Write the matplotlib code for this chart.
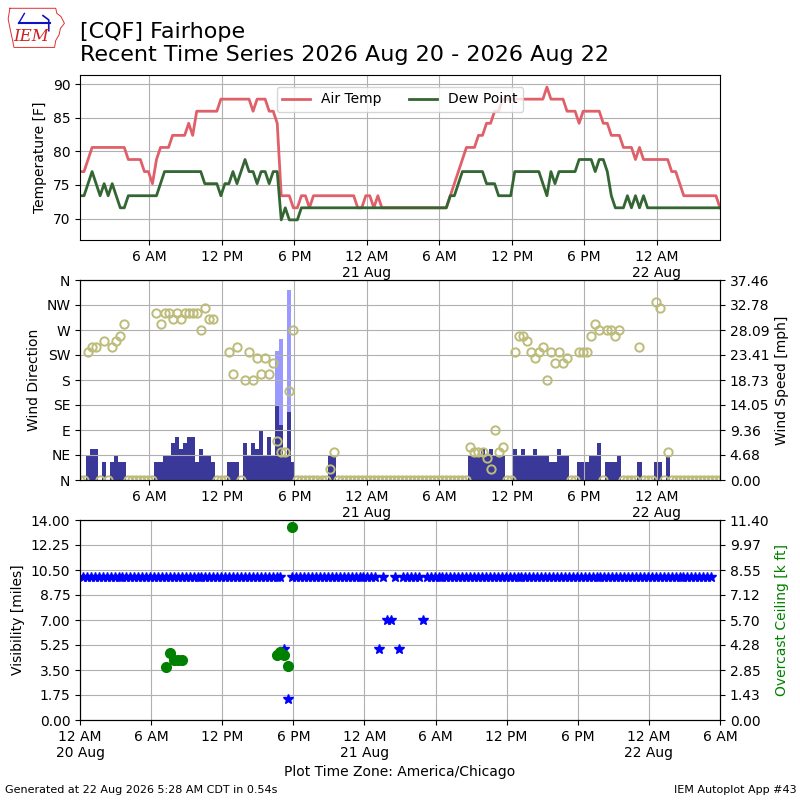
import numpy as np
import pandas as pd
import matplotlib
matplotlib.use("Agg")
import matplotlib.pyplot as plt
import matplotlib.dates as mdates
from matplotlib.ticker import FixedLocator, FormatStrFormatter
from datetime import datetime

# observations every 20 minutes, 00:15 20 Aug -> 05:15 22 Aug (America/Chicago)
valid = pd.date_range("2026-08-20 00:15", periods=160, freq="20min")

tmpf = [77, 77, 78.8, 80.6, 80.6, 80.6, 80.6, 80.6, 80.6, 80.6, 80.6, 80.6, 78.8, 78.8, 78.8, 78.8,
        77, 77, 75.2, 78.8, 80.6, 80.6, 80.6, 82.4, 82.4, 82.4, 82.4, 84.2, 82.4, 86, 86, 86,
        86, 86, 86, 87.8, 87.8, 87.8, 87.8, 87.8, 87.8, 87.8, 87.8, 86, 87.8, 87.8, 87.8, 86,
        86, 84.2, 73.4, 73.4, 73.4, 71.6, 71.6, 73.4, 73.4, 71.6, 73.4, 73.4, 73.4, 73.4, 73.4, 73.4,
        73.4, 73.4, 73.4, 73.4, 73.4, 71.6, 71.6, 73.4, 73.4, 71.6, 73.4, 71.6, 71.6, 71.6, 71.6, 71.6,
        71.6, 71.6, 71.6, 71.6, 71.6, 71.6, 71.6, 71.6, 71.6, 71.6, 71.6, 71.6, 73.4, 75.2, 77, 78.8,
        80.6, 80.6, 80.6, 82.4, 82.4, 84.2, 84.2, 86, 86, 87.8, 87.8, 87.8, 87.8, 87.8, 87.8, 87.8,
        87.8, 87.8, 87.8, 87.8, 89.6, 87.8, 87.8, 87.8, 87.8, 86, 86, 86, 84.2, 86, 86, 86,
        86, 86, 84.2, 84.2, 82.4, 82.4, 82.4, 80.6, 80.6, 80.6, 78.8, 80.6, 78.8, 78.8, 78.8, 78.8,
        78.8, 78.8, 78.8, 77, 77, 75.2, 73.4, 73.4, 73.4, 73.4, 73.4, 73.4, 73.4, 73.4, 73.4, 71.6]

dwpf = [73.4, 73.4, 75.2, 77, 75.2, 73.4, 75.2, 73.4, 75.2, 73.4, 71.6, 71.6, 73.4, 73.4, 73.4, 73.4,
        73.4, 73.4, 73.4, 73.4, 75.2, 77, 77, 77, 77, 77, 77, 77, 77, 77, 77, 75.2,
        75.2, 75.2, 75.2, 73.4, 75.2, 75.2, 77, 75.2, 77, 78.8, 77, 77, 75.2, 77, 77, 75.2,
        77, 77, 69.8, 71.6, 69.8, 69.8, 69.8, 71.6, 71.6, 71.6, 71.6, 71.6, 71.6, 71.6, 71.6, 71.6,
        71.6, 71.6, 71.6, 71.6, 71.6, 71.6, 71.6, 71.6, 71.6, 71.6, 71.6, 71.6, 71.6, 71.6, 71.6, 71.6,
        71.6, 71.6, 71.6, 71.6, 71.6, 71.6, 71.6, 71.6, 71.6, 71.6, 71.6, 71.6, 73.4, 73.4, 75.2, 77,
        77, 77, 77, 77, 77, 75.2, 75.2, 75.2, 73.4, 73.4, 73.4, 73.4, 77, 77, 77, 77,
        77, 77, 77, 75.2, 73.4, 77, 75.2, 77, 77, 77, 77, 77, 78.8, 78.8, 78.8, 78.8,
        77, 78.8, 78.8, 77, 73.4, 71.6, 71.6, 71.6, 73.4, 71.6, 73.4, 71.6, 73.4, 71.6, 71.6, 71.6,
        71.6, 71.6, 71.6, 71.6, 71.6, 71.6, 71.6, 71.6, 71.6, 71.6, 71.6, 71.6, 71.6, 71.6, 71.6, 71.6]

# wind speed [kt]
sknt = [0, 0, 4, 5, 5, 0, 3, 0, 3, 4, 3, 3, 0, 0, 0, 0,
        0, 0, 0, 3, 3, 4, 4, 6, 7, 5, 6, 7, 7, 3, 5, 4,
        4, 3, 0, 0, 0, 3, 3, 3, 0, 6, 4, 6, 5, 8, 4, 7,
        4, 12, 9, 4, 11, 3, 0, 0, 0, 0, 0, 0, 0, 0, 4, 4,
        0, 0, 0, 0, 0, 0, 0, 0, 0, 0, 0, 0, 0, 0, 0, 0,
        0, 0, 0, 0, 0, 0, 0, 0, 0, 0, 0, 0, 0, 0, 0, 0,
        0, 4, 4, 4, 5, 4, 5, 4, 4, 4, 0, 0, 5, 4, 5, 4,
        4, 5, 4, 4, 4, 3, 3, 5, 4, 4, 0, 0, 3, 3, 3, 4,
        4, 6, 0, 3, 3, 3, 4, 0, 0, 0, 0, 3, 0, 0, 0, 3,
        3, 0, 4, 0, 0, 0, 0, 0, 0, 0, 0, 0, 0, 0, 0, 0]

# gusts [kt], only reported during the evening storm
gust = [np.nan] * 160
gust[49] = 21
gust[50] = 23
gust[52] = 31

# wind direction [deg], 0 when calm
drct = [0, 0, 230, 240, 240, 0, 250, 0, 240, 250, 260, 280, 0, 0, 0, 0,
        0, 0, 0, 300, 280, 300, 300, 290, 300, 290, 300, 300, 300, 300, 270, 310,
        290, 290, 0, 0, 0, 230, 190, 240, 0, 180, 230, 180, 220, 190, 220, 190,
        210, 70, 50, 50, 160, 270, 0, 0, 0, 0, 0, 0, 0, 0, 20, 50,
        0, 0, 0, 0, 0, 0, 0, 0, 0, 0, 0, 0, 0, 0, 0, 0,
        0, 0, 0, 0, 0, 0, 0, 0, 0, 0, 0, 0, 0, 0, 0, 0,
        0, 60, 50, 50, 50, 40, 20, 90, 50, 60, 0, 0, 230, 260, 260, 250,
        230, 220, 230, 240, 180, 230, 210, 230, 210, 220, 0, 0, 230, 230, 230, 260,
        280, 270, 0, 270, 270, 260, 270, 0, 0, 0, 0, 240, 0, 0, 0, 320,
        310, 0, 50, 0, 0, 0, 0, 0, 0, 0, 0, 0, 0, 0, 0, 0]

# visibility [miles]
vsby = [10.0] * 160
vsby[51] = 5.0
vsby[52] = 1.5
vsby[75] = 5.0
vsby[77] = 7.0
vsby[78] = 7.0
vsby[80] = 5.0
vsby[86] = 7.0

# overcast ceiling [k ft]
ceil = [np.nan] * 160
ceil[21] = 3.0
ceil[22] = 3.8
ceil[23] = 3.4
ceil[24] = 3.4
ceil[25] = 3.4
ceil[49] = 3.7
ceil[50] = 3.9
ceil[51] = 3.7
ceil[52] = 3.1
ceil[53] = 11.0

KT2MPH = 1.15078
sped = np.array(sknt) * KT2MPH
gust_mph = np.array(gust) * KT2MPH
smax = np.nanmax(gust_mph) * 1.05


def timefmt(x, pos=None):
    dt = mdates.num2date(x)
    label = dt.strftime("%-I %p")
    if dt.hour == 0:
        label += "\n" + dt.strftime("%d %b")
    return label


def setup_xaxis(ax):
    ax.xaxis.set_major_locator(mdates.HourLocator(byhour=[0, 6, 12, 18]))
    ax.xaxis.set_major_formatter(plt.FuncFormatter(timefmt))
    ax.grid(True)


fig = plt.figure(figsize=(8, 8), dpi=100)

fig.text(0.1, 0.973, "[CQF] Fairhope\nRecent Time Series 2026 Aug 20 - 2026 Aug 22",
         fontsize=16, va="top", ha="left")

# logo
lax = fig.add_axes([7 / 800, 1 - 50 / 800, 58 / 800, 43 / 800])
lax.set_xlim(0, 1)
lax.set_ylim(0, 1)
lax.axis("off")
iowa = [(0.05, 0.97), (0.84, 0.97), (0.86, 0.85), (0.93, 0.78), (0.99, 0.62), (0.92, 0.5),
        (0.9, 0.36), (0.84, 0.22), (0.82, 0.06), (0.12, 0.06), (0.1, 0.2), (0.06, 0.45),
        (0.02, 0.72), (0.05, 0.97)]
lax.plot([p[0] for p in iowa], [p[1] for p in iowa], color="#e03030", lw=0.7)
lax.plot([0.2, 0.75], [0.62, 0.62], color="#1010c0", lw=1.5)
lax.plot([0.2, 0.3], [0.62, 0.85], color="#1010c0", lw=1.0)
lax.plot([0.62, 0.72, 0.72], [0.8, 0.7, 0.45], color="#1010c0", lw=1.2)
lax.text(0.42, 0.12, "IEM", color="#d02020", fontsize=12, style="italic",
         family="DejaVu Serif", ha="center", va="bottom")

# temperature panel
ax1 = fig.add_axes([0.1, 0.7, 0.8, 0.20625])
ax1.plot(valid, tmpf, color="#e0606a", lw=2, label="Air Temp")
ax1.plot(valid, dwpf, color="#336633", lw=2, label="Dew Point")
ax1.set_xlim(valid[0], valid[-1])
ax1.set_ylim(66.8, 91.4)
ax1.set_ylabel("Temperature [F]")
setup_xaxis(ax1)
ax1.legend(loc="upper center", ncol=2, bbox_to_anchor=(0.5, 0.97))

# wind panel: speed bars on the primary axes, direction on the twin
ax2 = fig.add_axes([0.1, 0.4, 0.8, 0.25])
ax2.bar(valid, gust_mph, width=20 / 1440.0, color="#9999ff")
ax2.bar(valid, sped, width=20 / 1440.0, color="#3a3899")
ax2.set_xlim(valid[0], valid[-1])
ax2.set_ylim(0, smax)
setup_xaxis(ax2)

ax2b = ax2.twinx()
ax2b.plot(valid, drct, "o", mfc="none", mec="#bdbc7a", ms=6, mew=1.4)
ax2b.set_ylim(0, 360)
ax2b.set_xlim(valid[0], valid[-1])

ax2.yaxis.set_major_locator(FixedLocator(np.linspace(0, smax, 9)))
ax2.yaxis.set_major_formatter(FormatStrFormatter("%.2f"))
ax2.yaxis.tick_right()
ax2.yaxis.set_label_position("right")
ax2.set_ylabel("Wind Speed [mph]")

ax2b.set_yticks(np.arange(0, 361, 45))
ax2b.set_yticklabels(["N", "NE", "E", "SE", "S", "SW", "W", "NW", "N"])
ax2b.yaxis.tick_left()
ax2b.yaxis.set_label_position("left")
ax2b.set_ylabel("Wind Direction")

# visibility / ceiling panel
ax3 = fig.add_axes([0.1, 0.1, 0.8, 0.25])
ax3.plot(valid, vsby, "*", color="b", ms=7, ls="none")
ax3.set_ylim(0, 14)
ax3.yaxis.set_major_locator(FixedLocator(np.linspace(0, 14, 9)))
ax3.yaxis.set_major_formatter(FormatStrFormatter("%.2f"))
ax3.set_ylabel("Visibility [miles]")
ax3.set_xlim(datetime(2026, 8, 20, 0, 0), datetime(2026, 8, 22, 6, 0))
setup_xaxis(ax3)
ax3.set_xlabel("Plot Time Zone: America/Chicago")

ax3b = ax3.twinx()
ax3b.plot(valid, ceil, "o", color="g", ms=7, ls="none")
ax3b.set_ylim(0, 11.4)
ax3b.yaxis.set_major_locator(FixedLocator(np.linspace(0, 11.4, 9)))
ax3b.yaxis.set_major_formatter(FormatStrFormatter("%.2f"))
ax3b.set_ylabel("Overcast Ceiling [k ft]", color="g")
ax3b.set_xlim(datetime(2026, 8, 20, 0, 0), datetime(2026, 8, 22, 6, 0))

fig.text(0.006, 0.006, "Generated at 22 Aug 2026 5:28 AM CDT in 0.54s", fontsize=8, va="bottom")
fig.text(0.996, 0.006, "IEM Autoplot App #43", fontsize=8, va="bottom", ha="right")

fig.savefig("out.png", dpi=100)
